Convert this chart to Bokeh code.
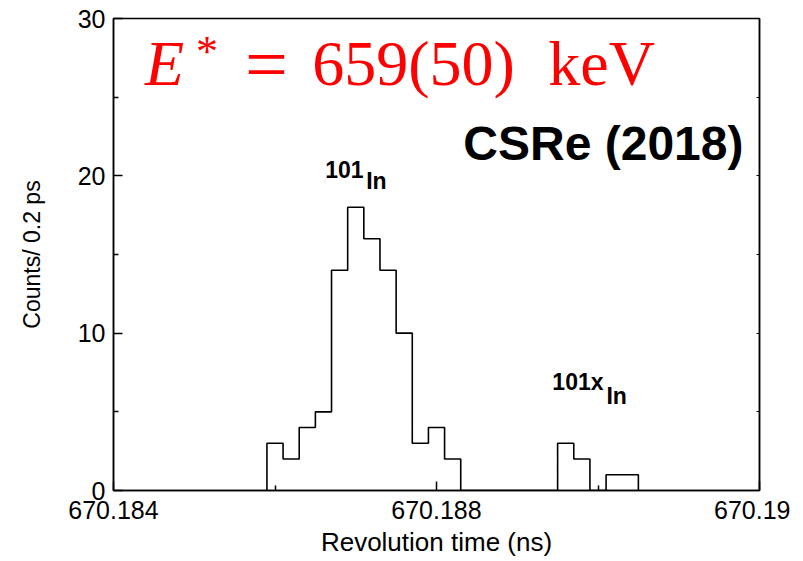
import numpy as np
from bokeh.plotting import figure
from bokeh.models import (Label, LinearAxis, FixedTicker, BasicTickFormatter, Range1d)
from bokeh.embed import file_html
from bokeh.resources import INLINE

# ---- data ----
bin_start = 670.1859          # ns, left edge of first bin
bin_width = 0.0002            # ns  (0.2 ps)
counts = [3, 2, 4, 5, 14, 18, 16, 14, 10, 3, 4, 2,
          0, 0, 0, 0, 0, 0, 3, 2, 0, 1, 1]
x_major = [670.184, 670.188, 670.192]
x_minor = [670.186, 670.190]
y_major = [0, 10, 20, 30]
y_minor = [5, 15, 25]

edges = bin_start + bin_width * np.arange(len(counts) + 1)
xs = [edges[0]] + list(edges[:-1]) + [edges[-1]]
ys = [0] + counts + [0]

X0, X1 = 670.184, 670.192
Y0, Y1 = 0, 30

p = figure(width=790, height=561, output_backend="svg", toolbar_location=None,
           x_range=Range1d(X0, X1), y_range=Range1d(Y0, Y1),
           min_border_left=113, min_border_right=31, min_border_top=18,
           min_border_bottom=71)
p.xgrid.visible = False
p.ygrid.visible = False
p.outline_line_color = "black"
p.outline_line_width = 1.5
p.background_fill_color = "white"
p.border_fill_color = "white"

p.step(xs, ys, mode="after", line_color="black", line_width=1.6)

FONT = "Liberation Sans"
xa = p.xaxis[0]
xa.ticker = FixedTicker(ticks=x_major, minor_ticks=x_minor)
xa.formatter = BasicTickFormatter(precision=3, use_scientific=False)
xa.major_label_overrides = {670.192: "670.19"}   # cut off at the edge in the reference
xa.axis_label = "Revolution time (ns)"
ya = p.yaxis[0]
ya.ticker = FixedTicker(ticks=y_major, minor_ticks=y_minor)
ya.axis_label = "Counts/ 0.2 ps"
for ax in (xa, ya):
    ax.axis_line_color = "black"
    ax.axis_line_width = 1.5
    ax.major_tick_in = 9
    ax.major_tick_out = 0
    ax.minor_tick_in = 5
    ax.minor_tick_out = 0
    ax.major_tick_line_width = 1.5
    ax.minor_tick_line_width = 1.5
    ax.major_label_text_font = FONT
    ax.major_label_text_font_size = "25px"
    ax.major_label_text_color = "black"
    ax.axis_label_text_font = FONT
    ax.axis_label_text_font_style = "normal"
    ax.axis_label_text_color = "black"
xa.axis_label_text_font_size = "26px"
ya.axis_label_text_font_size = "23px"
xa.major_label_standoff = 10
xa.axis_label_standoff = 5
ya.major_label_standoff = 8
ya.axis_label_standoff = 30

ra = LinearAxis(ticker=FixedTicker(ticks=y_major, minor_ticks=y_minor),
                major_label_overrides={t: "" for t in y_major},
                major_tick_in=3, major_tick_out=0,
                minor_tick_in=3, minor_tick_out=0, axis_line_color="black",
                axis_line_width=1.5, major_label_standoff=0)
p.add_layout(ra, "right")

# annotation placement helpers (page pixels -> data)
def px2x(px):
    return X0 + (px - 113.5) / (759 - 113.5) * (X1 - X0)

def px2y(py):
    return (490 - py) / (490 - 18) * (Y1 - Y0)

def lab(text, px, base, size, font=FONT, style="normal", color="black", align="left"):
    # base = page y of the text baseline; label is drawn centred on its em box
    mid = base - 0.345 * size
    p.add_layout(Label(x=px2x(px), y=px2y(mid), text=text, text_font=font,
                       text_font_size=f"{size}px", text_font_style=style,
                       text_color=color, text_align=align,
                       text_baseline="middle"))

RED = "#ff0000"
SERIF = "Liberation Serif"
lab("E", 145, 85, 64, SERIF, "italic", RED)
lab("*", 196, 66, 44, SERIF, "normal", RED)
lab("=", 245, 90, 76, SERIF, "normal", RED)
lab("659(50)", 312, 85, 64, SERIF, "normal", RED)
lab("keV", 548, 85, 64, SERIF, "normal", RED)

lab("CSRe (2018)", 743, 160, 48, FONT, "bold", "black", "right")

lab("101", 325, 177, 23, FONT, "bold")
lab("In", 366, 188, 23, FONT, "bold")
lab("101x", 552, 389, 23, FONT, "bold")
lab("In", 606, 403, 23, FONT, "bold")

open("out.html", "w").write(file_html(p, INLINE))
